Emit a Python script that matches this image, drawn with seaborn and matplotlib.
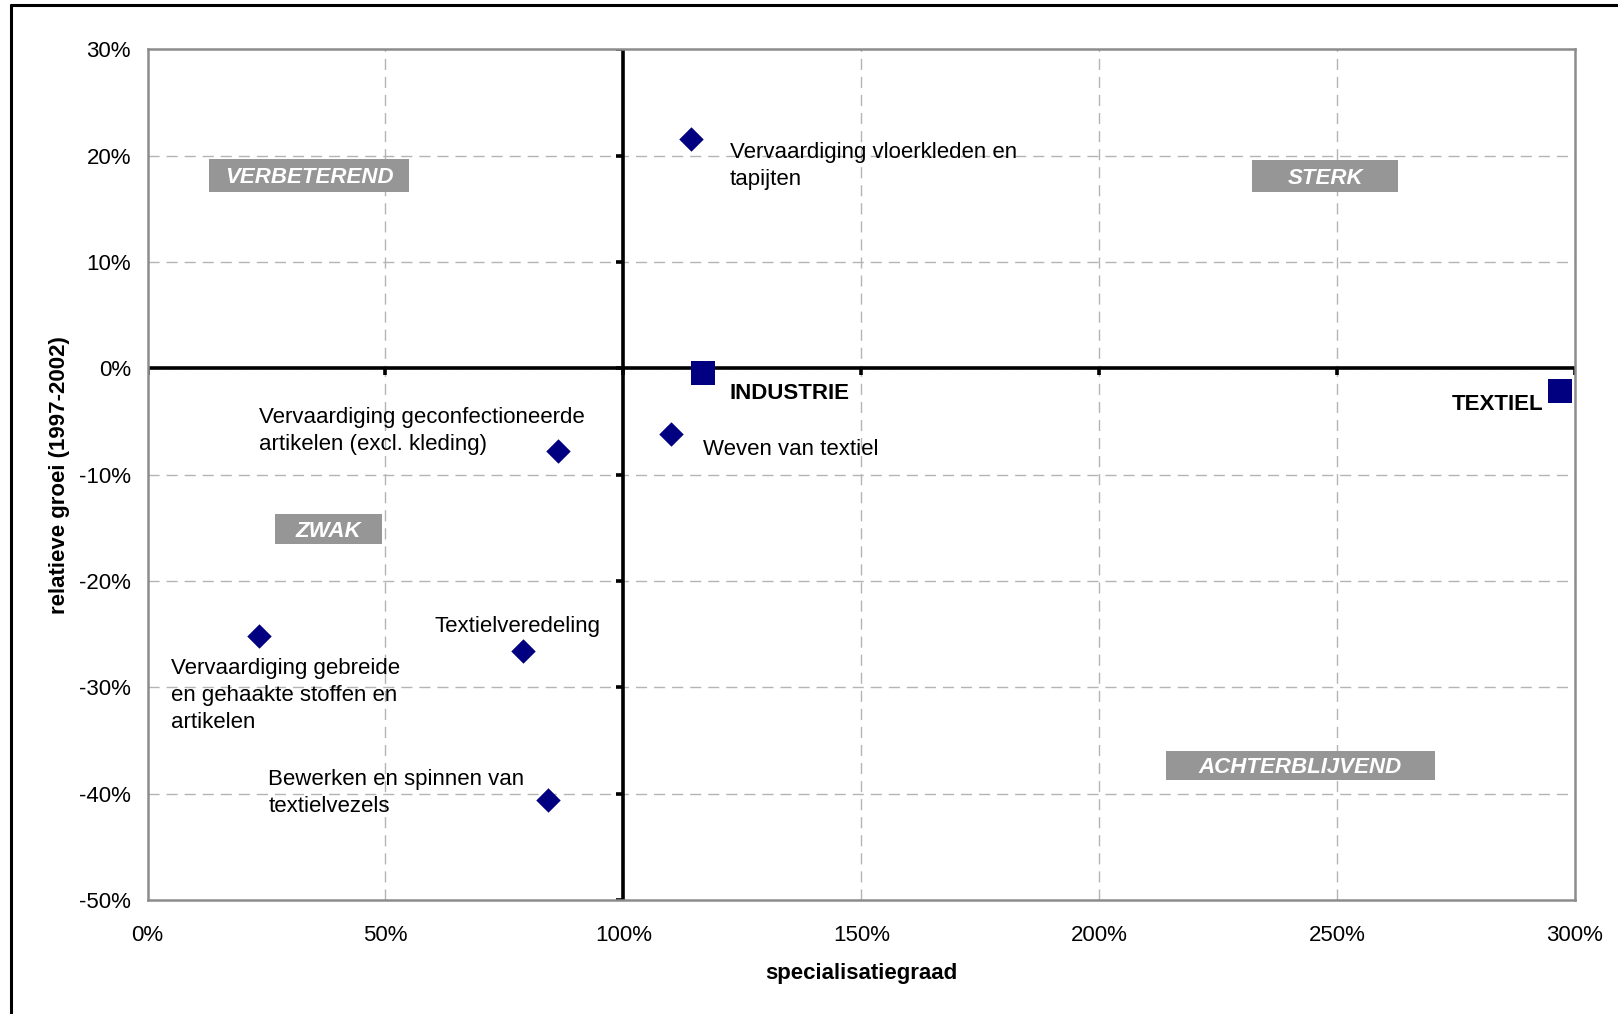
import numpy as np
import pandas as pd
import seaborn as sns
import matplotlib.pyplot as plt
from matplotlib.lines import Line2D
from matplotlib.patches import Rectangle

# ==========================================
# 1. DATA (values in %)
# ==========================================
sectors = ["Vervaardiging vloerkleden en\ntapijten",
           "Weven van textiel",
           "Vervaardiging geconfectioneerde\nartikelen (excl. kleding)",
           "Textielveredeling",
           "Vervaardiging gebreide\nen gehaakte stoffen en\nartikelen",
           "Bewerken en spinnen van\ntextielvezels"]
spec = [114.3, 110.1, 86.3, 79.0, 23.4, 84.2]
groei = [21.6, -6.2, -7.8, -26.6, -25.2, -40.6]

totals = ["INDUSTRIE", "TEXTIEL"]
totals_spec = [116.7, 296.9]
totals_groei = [-0.4, -2.1]

x_ticks = [0, 50, 100, 150, 200, 250, 300]
y_ticks = [30, 20, 10, 0, -10, -20, -30, -40, -50]

quadrants = ["VERBETEREND", "STERK", "ZWAK", "ACHTERBLIJVEND"]

df = pd.DataFrame({'sector': sectors, 'spec': spec, 'groei': groei})
df_tot = pd.DataFrame({'sector': totals, 'spec': totals_spec, 'groei': totals_groei})

# ==========================================
# 2. STYLE
# ==========================================
sns.set_style("white")
plt.rcParams['font.family'] = ['Liberation Sans', 'DejaVu Sans']
plt.rcParams['text.color'] = 'black'
plt.rcParams['axes.labelcolor'] = 'black'
plt.rcParams['xtick.color'] = 'black'
plt.rcParams['ytick.color'] = 'black'

navy = '#000080'
fs = 16

fig = plt.figure(figsize=(16.18, 10.14), dpi=100)
ax = fig.add_axes([0.0912, 0.1124, 0.8822, 0.8388])

# grid
for xv in x_ticks[1:-1]:
    ax.axvline(xv, color='#b4b4b4', lw=1, ls=(0, (8, 5)), zorder=0)
for yv in y_ticks[1:-1]:
    ax.axhline(yv, color='#b4b4b4', lw=1, ls=(0, (8, 5)), zorder=0)

# crossing axes at 100% / 0%
ax.axvline(100, color='black', lw=2.6, zorder=2)
ax.axhline(0, color='black', lw=2.6, zorder=2)
ax.plot(x_ticks, np.zeros(len(x_ticks)), ls='none', marker=3, ms=5, mew=2.6, color='black', zorder=2)
ax.plot(np.full(len(y_ticks), 100), y_ticks, ls='none', marker=0, ms=5, mew=2.6, color='black', zorder=2)

# points
sns.scatterplot(data=df, x='spec', y='groei', marker='D', s=155, color=navy,
                linewidth=0, ax=ax, zorder=4)
sns.scatterplot(data=df_tot, x='spec', y='groei', marker='s', s=300, color=navy,
                linewidth=0, ax=ax, zorder=4)

# labels (offsets in points from the marker)
label_offsets = [(27.5, -19.5, 'left'), (23, -11.2, 'left'), (-215.5, 14.5, 'left'),
                 (-63.9, 17.8, 'left'), (-63.2, -42.4, 'left'), (-201.4, 4.8, 'left')]
for name, xv, yv, (dx, dy, ha) in zip(sectors, spec, groei, label_offsets):
    ax.annotate(name, (xv, yv), xytext=(dx, dy), textcoords='offset points',
                ha=ha, va='center', fontsize=fs, linespacing=1.38, color='black', zorder=5)

tot_offsets = [(19.3, -14.9, 'left'), (-11.9, -9.7, 'right')]
for name, xv, yv, (dx, dy, ha) in zip(totals, totals_spec, totals_groei, tot_offsets):
    ax.annotate(name, (xv, yv), xytext=(dx, dy), textcoords='offset points',
                ha=ha, va='center', fontsize=fs, fontweight='bold', color='black', zorder=5)

# quadrant boxes (x0, x1, y0, y1)
boxes = [(13.0, 54.9, 16.6, 19.7), (232.1, 262.9, 16.6, 19.6),
         (26.7, 49.2, -16.5, -13.7), (214.1, 270.5, -38.7, -36.0)]
for name, (x0, x1, y0, y1) in zip(quadrants, boxes):
    ax.add_patch(Rectangle((x0, y0), x1 - x0, y1 - y0, facecolor='#969696',
                           edgecolor='none', zorder=3))
    ax.annotate(name, ((x0 + x1) / 2, (y0 + y1) / 2), xytext=(0, -1.5),
                textcoords='offset points', ha='center', va='center',
                color='white', fontsize=fs, fontweight='bold', fontstyle='italic', zorder=4)

# axes
ax.set_xlim(0, 300)
ax.set_ylim(-50, 30)
ax.set_xticks(x_ticks)
ax.set_yticks(y_ticks)
ax.set_xticklabels([f"{v}%" for v in x_ticks], fontsize=fs)
ax.set_yticklabels([f"{v}%" for v in y_ticks], fontsize=fs)
ax.tick_params(axis='both', length=0, labelcolor='black')
ax.tick_params(axis='x', pad=18)
ax.tick_params(axis='y', pad=12)
for sp in ax.spines.values():
    sp.set_color('#8c8c8c')
    sp.set_linewidth(1.8)

ax.set_xlabel('specialisatiegraad', fontsize=fs, fontweight='bold', color='black')
ax.set_ylabel('relatieve groei (1997-2002)', fontsize=fs, fontweight='bold', color='black')
ax.xaxis.set_label_coords(0.5, -0.074)
ax.yaxis.set_label_coords(-0.054, 0.5)

# outer frame
fig.add_artist(Line2D([11 / 1618, 11 / 1618], [0, 1 - 5 / 1014], color='black', lw=2.2))
fig.add_artist(Line2D([11 / 1618, 1], [1 - 5 / 1014, 1 - 5 / 1014], color='black', lw=2.2))

fig.savefig('out.png', dpi=100, facecolor='white')
